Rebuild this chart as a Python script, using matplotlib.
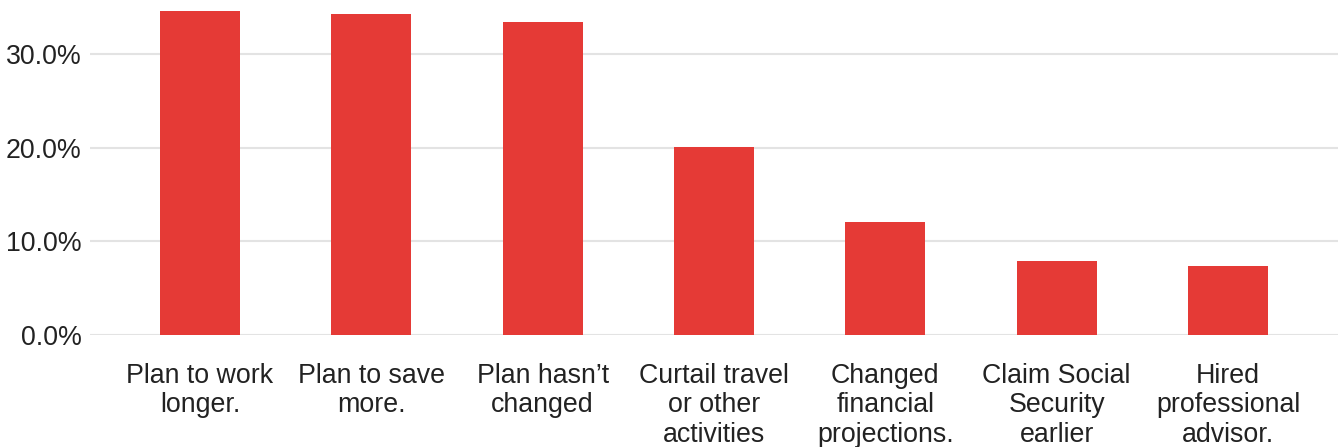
import matplotlib.pyplot as plt
from matplotlib.ticker import FuncFormatter

plt.rcParams['font.family'] = ['Liberation Sans', 'DejaVu Sans']

labels = ["Plan to work\nlonger.", "Plan to save\nmore.", "Plan hasn\u2019t\nchanged",
          "Curtail travel\nor other\nactivities", "Changed\nfinancial\nprojections.",
          "Claim Social\nSecurity\nearlier", "Hired\nprofessional\nadvisor."]
share = [34.6, 34.3, 33.4, 20.1, 12.1, 7.9, 7.4]
yticks = [0, 10, 20, 30]

fig = plt.figure(figsize=(13.4, 4.47), dpi=100)
ax = fig.add_axes([90 / 1340, 1 - 335 / 447, 1248 / 1340, 335 / 447])

x = range(len(labels))
ax.bar(x, share, width=0.467, color="#e53a36", zorder=3)

ax.set_xlim(-0.642, len(labels) - 1 + 0.642)
ax.set_ylim(0, 35.75)
ax.set_yticks(yticks)
ax.yaxis.set_major_formatter(FuncFormatter(lambda v, p: f"{v:.1f}%"))
ax.set_xticks(list(x))
ax.set_xticklabels(labels, linespacing=1.18)

ax.grid(axis="y", color="#e3e3e3", linewidth=1.5, zorder=0)
for s in ax.spines.values():
    s.set_visible(False)
ax.tick_params(axis="both", length=0, labelsize=19.3, colors="#222222")
ax.tick_params(axis="y", pad=6)
ax.tick_params(axis="x", pad=20)

fig.savefig("out.png", dpi=100)
